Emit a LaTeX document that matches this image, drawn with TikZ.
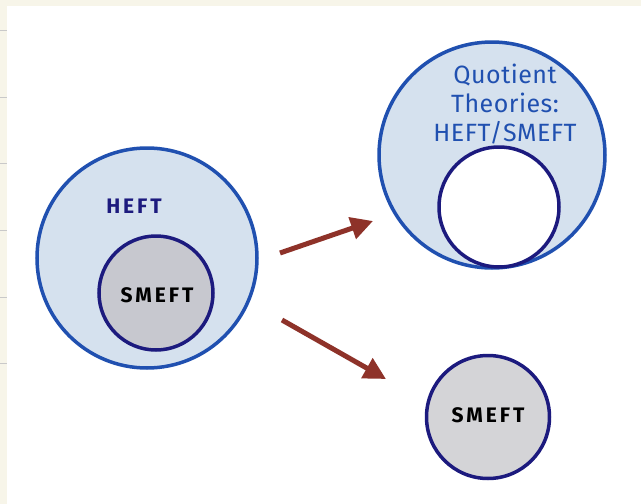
\documentclass[tikz,border=0pt]{standalone}
\usepackage{fontspec}
\setmainfont{Fira Sans}
\newfontfamily\handfont[LetterSpace=14]{Fira Sans}
\newfontfamily\notefont[LetterSpace=2]{Fira Sans}
\usetikzlibrary{arrows.meta}
\definecolor{paper}{HTML}{F7F5E9}
\definecolor{rule}{HTML}{C9C9C9}
\definecolor{setfill}{HTML}{D5E1EE}
\definecolor{setline}{HTML}{2050B0}
\definecolor{navy}{HTML}{1C1A7E}
\definecolor{subfill}{HTML}{C7C8CF}
\definecolor{solofill}{HTML}{D4D4D7}
\definecolor{maparrow}{HTML}{8E3229}
\tikzset{
  bigset/.style={circle, draw=setline, fill=setfill, line width=3.5pt, inner sep=0pt},
  subset/.style={circle, draw=navy, line width=3.5pt, inner sep=0pt},
  handlabel/.style={inner sep=0pt},
  maparr/.style={draw=maparrow, line width=5pt, -{Triangle[length=22pt,width=22pt]}}
}
\begin{document}
\begin{tikzpicture}[x=1pt,y=-1pt]
  % page frame and margin rules
  \fill[paper] (0,0) rectangle (641,504);
  \fill[white] (7,6) rectangle (641,504);
  \useasboundingbox (0,0) rectangle (641,504);
  \foreach \yy in {30,97,163,230,297,363}
    \draw[rule, line width=1pt] (0,\yy) -- (7,\yy);

  % left: HEFT containing SMEFT
  \node[bigset, minimum size=220pt] (heft) at (147,258) {};
  \node[subset, fill=subfill, minimum size=114pt] (smeft) at (156,293) {};
  \node[handlabel, text=navy, font=\handfont\bfseries\fontsize{21}{21}\selectfont] (heftlab) at (134,206) {HEFT};
  \node[handlabel, text=black, font=\handfont\bfseries\fontsize{21}{21}\selectfont] (smeftlab) at (157,295) {SMEFT};

  % top right: quotient theories
  \node[bigset, minimum size=226pt] (quot) at (492,155) {};
  \node[subset, fill=white, minimum size=120pt] (hole) at (499,207) {};
  \node[handlabel, text=setline, align=center, font=\notefont\fontsize{25}{29}\selectfont] (quotlab) at (505,104)
    {Quotient\\Theories:\\HEFT/SMEFT};

  % bottom right: SMEFT alone
  \node[subset, fill=solofill, minimum size=123pt] (solo) at (488,417) {};
  \node[handlabel, text=black, font=\handfont\bfseries\fontsize{21}{21}\selectfont] (solollab) at (488,415) {SMEFT};

  % maps
  \coordinate (upfrom) at (280,253);
  \coordinate (upto) at (373,221);
  \coordinate (downfrom) at (282,320);
  \coordinate (downto) at (386,379);
  \draw[maparr] (upfrom) -- (upto);
  \draw[maparr] (downfrom) -- (downto);
\end{tikzpicture}
\end{document}
